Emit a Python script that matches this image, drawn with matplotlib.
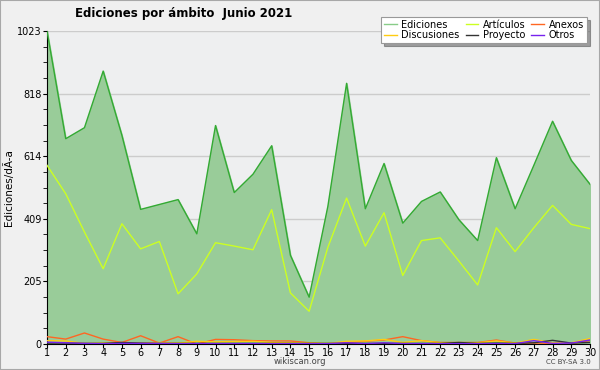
import numpy as np
import matplotlib.pyplot as plt
from matplotlib.patches import Rectangle

dias = list(range(1, 31))
ediciones = [1023, 671, 707, 892, 682, 440, 456, 472, 360, 714, 495, 555, 648, 290, 153,
             450, 852, 442, 590, 395, 466, 497, 406, 338, 609, 442, 584, 728, 600, 522]
articulos = [584, 491, 366, 246, 393, 311, 335, 164, 229, 331, 320, 308, 439, 167, 107,
             316, 477, 320, 429, 224, 338, 347, 271, 193, 380, 302, 380, 453, 391, 377]
anexos = [24, 16, 36, 16, 5, 27, 3, 24, 0, 15, 14, 11, 10, 10, 4,
          0, 5, 9, 13, 24, 11, 5, 5, 5, 13, 3, 3, 2, 2, 11]
discusiones = [11, 10, 2, 3, 4, 3, 5, 3, 9, 7, 8, 9, 5, 4, 3,
               2, 9, 10, 15, 5, 11, 4, 3, 4, 10, 3, 15, 4, 4, 18]
proyecto = [3, 3, 2, 2, 5, 3, 2, 2, 2, 2, 2, 2, 2, 2, 2,
            2, 2, 2, 2, 2, 2, 2, 5, 2, 3, 2, 4, 12, 3, 5]
otros = [6, 4, 2, 1, 2, 2, 2, 1, 1, 1, 1, 1, 1, 1, 1,
         1, 4, 1, 4, 1, 1, 1, 1, 1, 1, 1, 11, 2, 3, 13]

ymax = 1023
yticks = [0, 205, 409, 614, 818, 1023]

fig = plt.figure(figsize=(6, 3.7), dpi=100, facecolor='#f0f0f0')
fig.patches.append(Rectangle((0, 0), 1, 1, transform=fig.transFigure, fill=False,
                             edgecolor='#a8a8a8', linewidth=1.5))
ax = fig.add_axes([47/600, 1-344/370, 543/600, 313/370])
ax.set_facecolor('#eeeff0')

ax.fill_between(dias, ediciones, color='#99cc99', zorder=2)
ax.plot(dias, ediciones, color='#33aa33', lw=1, label='Ediciones', zorder=3)
ax.plot(dias, articulos, color='#ccff22', lw=1, label='Artículos', zorder=3)
ax.plot(dias, anexos, color='#ff6622', lw=1, label='Anexos', zorder=4)
ax.plot(dias, discusiones, color='#ffcc11', lw=1, label='Discusiones', zorder=4)
ax.plot(dias, proyecto, color='#333333', lw=1, label='Proyecto', zorder=4)
ax.plot(dias, otros, color='#7722ee', lw=1, label='Otros', zorder=4)

ax.set_xlim(1, 30)
ax.set_ylim(0, ymax)
ax.set_xticks(dias)
ax.set_yticks(yticks)
ax.set_yticks(np.arange(0, ymax, ymax/20), minor=True)
ax.tick_params(labelsize=7, length=3, pad=1)
ax.tick_params(axis='x', pad=0)
ax.tick_params(which='minor', length=3)
ax.yaxis.grid(True, color='#cccccc', lw=1, zorder=1)
ax.set_axisbelow(True)
for s in ['top', 'right']:
    ax.spines[s].set_visible(False)
ax.set_ylabel('Ediciones/dÃ-a', fontsize=7.5, labelpad=2)

# orden de la leyenda: filas Ediciones/Artículos/Anexos y Discusiones/Proyecto/Otros
h, l = ax.get_legend_handles_labels()
orden = [0, 3, 1, 4, 2, 5]
leg = fig.legend([h[i] for i in orden], [l[i] for i in orden], ncol=3,
                 loc='upper right', bbox_to_anchor=(592/600, 1-12/370),
                 fontsize=7, frameon=True, fancybox=False, shadow=True,
                 handlelength=1.3, handletextpad=0.5, columnspacing=0.6,
                 labelspacing=0.05, borderpad=0.3)
leg.get_frame().set_edgecolor('#999999')
leg.get_frame().set_linewidth(0.8)
for line in leg.get_lines():
    line.set_linewidth(1)
leg.legend_handles[0].set_color('#88cc88')

fig.text(184/600, 1-14/370, 'Ediciones por ámbito  Junio 2021', ha='center', va='center',
         fontsize=8.5, fontweight='bold')
fig.text(300/600, 1-362/370, 'wikiscan.org', ha='center', va='center', fontsize=6,
         color='#444444')
fig.text(591/600, 1-362/370, 'CC BY-SA 3.0', ha='right', va='center', fontsize=5,
         color='#444444')

plt.savefig('out.png', dpi=100, facecolor=fig.get_facecolor())
